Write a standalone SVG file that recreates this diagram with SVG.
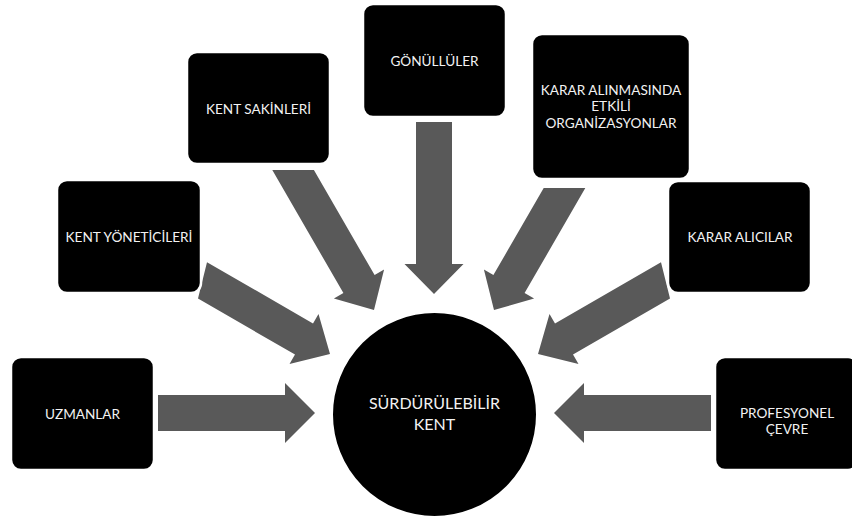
<svg xmlns="http://www.w3.org/2000/svg" width="852" height="521" viewBox="0 0 852 521">
  <style>
    .arrow { fill: #595959; stroke: none; }
    .box { fill: #000000; stroke: #ffffff; stroke-width: 2.5; }
    .hub { fill: #000000; stroke: #ffffff; stroke-width: 2; }
    .lbl { font-family: Lato, "Open Sans", "Liberation Sans", sans-serif; font-size: 13.6px; fill: #f2f2f2; text-anchor: middle; }
    .hublbl { font-family: Lato, "Open Sans", "Liberation Sans", sans-serif; font-size: 16px; fill: #f2f2f2; text-anchor: middle; }
  </style>
  <rect width="852" height="521" fill="#ffffff"/>

  <g id="connectors">
    <polygon class="arrow" points="158,395 285,395 285,383 315,413 285,443 285,431 158,431"/>
    <polygon class="arrow" points="207,262.2 313,323.4 318.5,313.9 330,354 289.5,364.1 295,354.6 198,298.6"/>
    <polygon class="arrow" points="272.3,170 313.9,170 374.6,275.1 384.1,269.6 374,310.1 333.9,298.6 343.4,293.1"/>
    <polygon class="arrow" points="416,122 452,122 452,264 463.5,264 434,294 404.5,264 416,264"/>
    <polygon class="arrow" points="543.7,188 585.3,188 524.6,293.1 534.1,298.6 494,310.1 483.9,269.6 493.4,275.1"/>
    <polygon class="arrow" points="661,262.2 670,298.6 573,354.6 578.5,364.1 538,354 549.5,313.9 555,323.4"/>
    <polygon class="arrow" points="711,395 584,395 584,383 554,413 584,443 584,431 711,431"/>
  </g>

  <g id="node-uzmanlar">
    <rect class="box" x="11" y="357" width="143" height="113" rx="10"/>
    <text class="lbl" x="82.5" y="418.5">UZMANLAR</text>
  </g>
  <g id="node-kent-yoneticileri">
    <rect class="box" x="57" y="180" width="144" height="113" rx="10"/>
    <text class="lbl" x="129" y="242">KENT YÖNETİCİLERİ</text>
  </g>
  <g id="node-kent-sakinleri">
    <rect class="box" x="187" y="52" width="143" height="112" rx="10"/>
    <text class="lbl" x="258.5" y="113.5">KENT SAKİNLERİ</text>
  </g>
  <g id="node-gonulluler">
    <rect class="box" x="363" y="4" width="143" height="113" rx="10"/>
    <text class="lbl" x="434.5" y="66">GÖNÜLLÜLER</text>
  </g>
  <g id="node-karar-alinmasinda">
    <rect class="box" x="532" y="34" width="158" height="145" rx="10"/>
    <text class="lbl" x="611" y="94.5">KARAR ALINMASINDA</text>
    <text class="lbl" x="611" y="111">ETKİLİ</text>
    <text class="lbl" x="611" y="127.5">ORGANİZASYONLAR</text>
  </g>
  <g id="node-karar-alicilar">
    <rect class="box" x="668" y="181" width="143" height="112" rx="10"/>
    <text class="lbl" x="740" y="241.5">KARAR ALICILAR</text>
  </g>
  <g id="node-profesyonel-cevre">
    <rect class="box" x="715" y="357" width="143" height="113" rx="10"/>
    <text class="lbl" x="787" y="417.5">PROFESYONEL</text>
    <text class="lbl" x="787" y="434">ÇEVRE</text>
  </g>
  <g id="node-surdurulebilir-kent">
    <circle class="hub" cx="434.5" cy="414.5" r="102.5"/>
    <text class="hublbl" x="434.5" y="409">SÜRDÜRÜLEBİLİR</text>
    <text class="hublbl" x="434.5" y="429.5">KENT</text>
  </g>
</svg>
